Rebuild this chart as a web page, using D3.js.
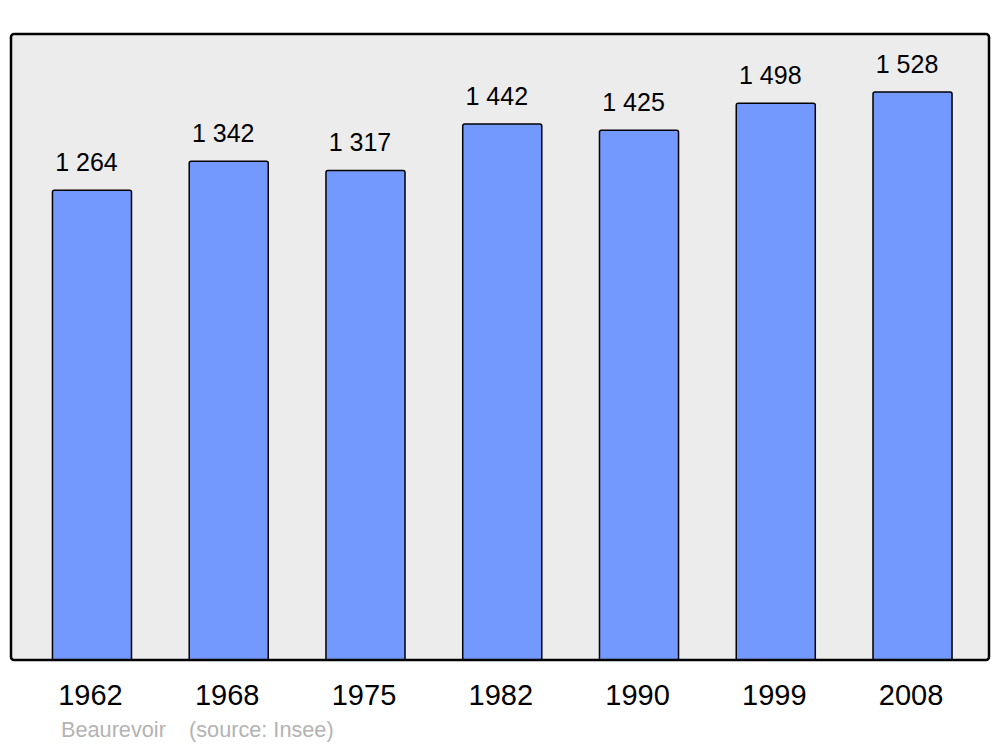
<!DOCTYPE html>
<html><head><meta charset="utf-8">
<script src="https://cdn.jsdelivr.net/npm/d3@7"></script>
<style>body{margin:0;background:#fff}svg{display:block}</style>
</head><body>
<script>
const years = ["1962","1968","1975","1982","1990","1999","2008"];
const population = [1264,1342,1317,1442,1425,1498,1528];
const valueLabels = ["1 264","1 342","1 317","1 442","1 425","1 498","1 528"];
const caption = ["Beaurevoir", "(source: Insee)"];

const W = 1000, H = 747;
const svg = d3.select("body").append("svg").attr("width", W).attr("height", H);
const font = "'Liberation Sans', Arial, sans-serif";

const frame = {x0: 11, x1: 989, y0: 34, y1: 660};
svg.append("rect").attr("x", frame.x0).attr("y", frame.y0)
  .attr("width", frame.x1 - frame.x0).attr("height", frame.y1 - frame.y0)
  .attr("rx", 3).attr("fill", "#ececec").attr("stroke", "none");

const x = d3.scaleBand().domain(years).range([23.6, 980.9]).paddingInner(0.422).paddingOuter(0.211);
const y = d3.scaleLinear().domain([0, 1684]).range([frame.y1, frame.y0]);

const g = svg.append("g");
years.forEach((yr, i) => {
  const bx = x(yr), bw = x.bandwidth(), by = y(population[i]);
  const r = 2;
  const p = `M${bx},${frame.y1} L${bx},${by + r} Q${bx},${by} ${bx + r},${by} L${bx + bw - r},${by} Q${bx + bw},${by} ${bx + bw},${by + r} L${bx + bw},${frame.y1}`;
  g.append("path").attr("d", p).attr("fill", "#7399ff").attr("stroke", "#000").attr("stroke-width", 1.5);
  g.append("text").attr("x", bx + bw / 2 - 5.5).attr("y", by - 19)
    .attr("text-anchor", "middle").attr("font-family", font).attr("font-size", 25)
    .attr("fill", "#000").text(valueLabels[i]);
});

svg.append("rect").attr("x", frame.x0).attr("y", frame.y0)
  .attr("width", frame.x1 - frame.x0).attr("height", frame.y1 - frame.y0)
  .attr("rx", 3).attr("fill", "none").attr("stroke", "#000").attr("stroke-width", 2.5);

const axis = d3.axisBottom(x).tickSize(0).tickPadding(0);
const ax = svg.append("g").attr("transform", `translate(0,${frame.y1})`).call(axis);
ax.select(".domain").remove();
ax.selectAll("text").attr("font-family", font).attr("font-size", 29).attr("fill", "#000")
  .attr("dy", null).attr("y", 45).attr("dx", -1.5);

svg.append("text").attr("x", 61).attr("y", 737).attr("font-family", font).attr("font-size", 21.7)
  .attr("fill", "#b3b3b3").text(caption[0]);
svg.append("text").attr("x", 189).attr("y", 737).attr("font-family", font).attr("font-size", 21.7)
  .attr("fill", "#b3b3b3").text(caption[1]);
</script>
</body></html>
